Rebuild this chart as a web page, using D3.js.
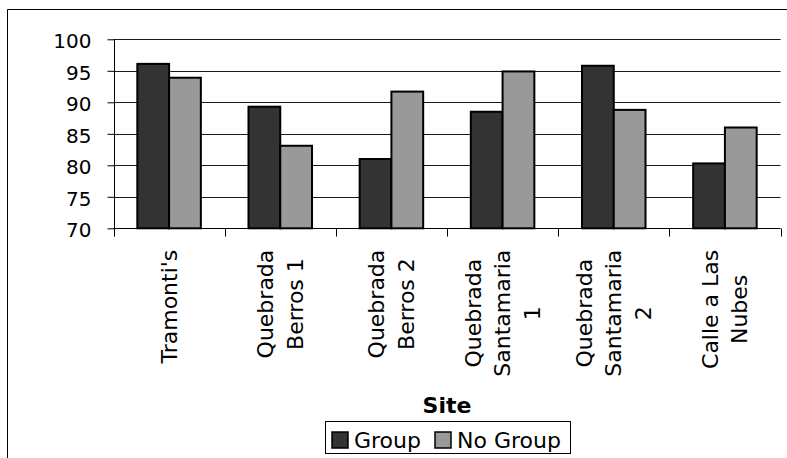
<!DOCTYPE html>
<html>
<head>
<meta charset="utf-8">
<script src="https://cdn.jsdelivr.net/npm/d3@7"></script>
<style>
  html, body { margin: 0; padding: 0; background: #fff; }
  svg { display: block; font-family: "DejaVu Sans", Verdana, sans-serif; }
</style>
</head>
<body>
<svg id="chart" width="787" height="458"></svg>
<script>
// Sites along the horizontal axis (line breaks as shown under each bar pair)
const categories = ["Tramonti's", "Quebrada Berros 1", "Quebrada Berros 2",
  "Quebrada Santamaria 1", "Quebrada Santamaria 2", "Calle a Las Nubes"];
const categoryLines = [
  ["Tramonti's"],
  ["Quebrada", "Berros 1"],
  ["Quebrada", "Berros 2"],
  ["Quebrada", "Santamaria", "1"],
  ["Quebrada", "Santamaria", "2"],
  ["Calle a Las", "Nubes"]
];
const seriesNames = ["Group", "No Group"];
const groupValues = [96.1, 89.3, 81.0, 88.5, 95.8, 80.3];
const noGroupValues = [93.9, 83.1, 91.7, 94.9, 88.8, 86.0];
const yTicks = [70, 75, 80, 85, 90, 95, 100];
const seriesColors = ["#333333", "#999999"];
const axisTitle = "Site";

const svg = d3.select("#chart");

const plot = { left: 113.5, right: 780.5, top: 39.3, bottom: 228.3 };

// outer chart frame (continues past the right and bottom edges)
svg.append("path")
  .attr("d", "M7.5,460 V9.5 H790")
  .attr("fill", "none").attr("stroke", "#000").attr("stroke-width", 1);

const y = d3.scaleLinear().domain([70, 100]).range([plot.bottom, plot.top]);
const x0 = d3.scaleBand().domain(categories).range([plot.left, plot.right]).padding(0);
const bw = x0.bandwidth();
const gapHalf = bw * 0.75 / 3.5;
const x1 = d3.scaleBand().domain(seriesNames).range([gapHalf, bw - gapHalf]).padding(0);

// horizontal gridlines
svg.append("g").selectAll("line")
  .data(yTicks.filter(v => v > 70))
  .join("line")
  .attr("x1", plot.left).attr("x2", plot.right)
  .attr("y1", d => Math.round(y(d)) + 0.5).attr("y2", d => Math.round(y(d)) + 0.5)
  .attr("stroke", "#1a1a1a").attr("stroke-width", 1);

// value axis
const yAxis = svg.append("g")
  .attr("transform", `translate(${Math.round(plot.left) + 0.5},0)`)
  .call(d3.axisLeft(y).tickValues(yTicks).tickSize(7).tickPadding(16).tickFormat(d3.format("d")));
yAxis.select(".domain").remove();
yAxis.selectAll(".tick line").attr("stroke", "#000");
yAxis.selectAll(".tick text")
  .attr("font-family", "DejaVu Sans, sans-serif")
  .attr("font-size", 20).attr("fill", "#000").attr("dy", "0.42em");
svg.append("line")
  .attr("x1", Math.round(plot.left) + 0.5).attr("x2", Math.round(plot.left) + 0.5)
  .attr("y1", plot.top).attr("y2", plot.bottom + 8)
  .attr("stroke", "#000");

// bars
const rows = categories.map((c, i) => ({ cat: c, vals: [groupValues[i], noGroupValues[i]] }));
const gBars = svg.append("g").selectAll("g").data(rows).join("g")
  .attr("transform", d => `translate(${x0(d.cat)},0)`);
gBars.selectAll("rect")
  .data(d => d.vals.map((v, k) => ({ v, k })))
  .join("rect")
  .attr("x", d => x1(seriesNames[d.k]))
  .attr("width", x1.bandwidth())
  .attr("y", d => y(d.v))
  .attr("height", d => y(70) - y(d.v))
  .attr("fill", d => seriesColors[d.k])
  .attr("stroke", "#000").attr("stroke-width", 2);

// category axis line and boundary ticks
const xAxisY = Math.round(plot.bottom) + 0.5;
svg.append("line")
  .attr("x1", plot.left).attr("x2", plot.right)
  .attr("y1", xAxisY).attr("y2", xAxisY)
  .attr("stroke", "#000");
const bounds = categories.map(c => x0(c)).concat([plot.right]);
svg.append("g").selectAll("line").data(bounds).join("line")
  .attr("x1", d => Math.round(d) + 0.5).attr("x2", d => Math.round(d) + 0.5)
  .attr("y1", xAxisY).attr("y2", xAxisY + 8)
  .attr("stroke", "#000");

// rotated category labels, block top-aligned under the axis, lines centered
const labelTop = 249.7;
const lineGap = 29.5;
const labels = svg.append("g").selectAll("g").data(categoryLines).join("g");
labels.each(function (lines, i) {
  const g = d3.select(this);
  const texts = g.selectAll("text").data(lines).join("text")
    .attr("text-anchor", "middle")
    .attr("dominant-baseline", "central")
    .attr("font-size", 22).attr("fill", "#000")
    .attr("x", 0)
    .attr("y", (d, k) => (k - (lines.length - 1) / 2) * lineGap)
    .text(d => d);
  let maxLen = 0;
  texts.each(function () { maxLen = Math.max(maxLen, this.getComputedTextLength()); });
  const cx = x0(categories[i]) + bw / 2;
  g.attr("transform", `translate(${cx},${labelTop + maxLen / 2}) rotate(-90)`);
});

// axis title
svg.append("text")
  .attr("x", (plot.left + plot.right) / 2).attr("y", 413)
  .attr("text-anchor", "middle")
  .attr("font-size", 22).attr("font-weight", "bold")
  .text(axisTitle);

// legend
const legend = svg.append("g");
legend.append("rect")
  .attr("x", 325.5).attr("y", 421.5).attr("width", 245).attr("height", 32)
  .attr("fill", "#fff").attr("stroke", "#000").attr("stroke-width", 1);
const legendX = [332, 435];
seriesNames.forEach((name, k) => {
  legend.append("rect")
    .attr("x", legendX[k]).attr("y", 432).attr("width", 16).attr("height", 16)
    .attr("fill", seriesColors[k]).attr("stroke", "#000").attr("stroke-width", 1.5);
  legend.append("text")
    .attr("x", legendX[k] + 22).attr("y", 448)
    .attr("font-size", 22).attr("fill", "#000")
    .text(name);
});
</script>
</body>
</html>
